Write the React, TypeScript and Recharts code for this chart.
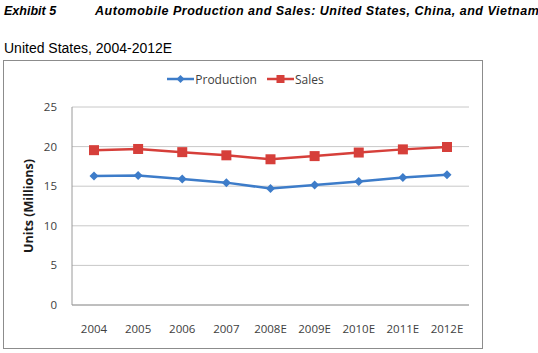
import React from 'react';
import { LineChart, Line, XAxis, YAxis, CartesianGrid, Legend } from 'recharts';

const years = ['2004', '2005', '2006', '2007', '2008E', '2009E', '2010E', '2011E', '2012E'];
const production = [16.3, 16.35, 15.9, 15.45, 14.7, 15.15, 15.6, 16.1, 16.45];
const sales = [19.55, 19.7, 19.3, 18.9, 18.4, 18.8, 19.25, 19.65, 19.95];
const yTicks = [0, 5, 10, 15, 20, 25];

const data = years.map((year, i) => ({ year, production: production[i], sales: sales[i] }));

const BLUE = '#3d7cc9';
const RED = '#d63f3a';
const FONT = '"Open Sans", "Liberation Sans", sans-serif';

const Diamond = (props: any) => {
  const { cx, cy } = props;
  if (cx == null || cy == null) return null;
  const r = 4.5;
  return <path d={`M${cx},${cy - r}L${cx + r},${cy}L${cx},${cy + r}L${cx - r},${cy}Z`} fill={BLUE} />;
};

const Square = (props: any) => {
  const { cx, cy } = props;
  if (cx == null || cy == null) return null;
  return <rect x={cx - 5} y={cy - 5} width={10} height={10} fill={RED} />;
};

const LegendContent = () => (
  <div
    style={{
      display: 'flex',
      justifyContent: 'center',
      paddingLeft: 18,
      fontFamily: FONT,
      fontSize: 12,
      color: '#404040',
      height: 16,
    }}
  >
    <span style={{ display: 'flex', alignItems: 'center', marginRight: 10 }}>
      <svg width={27} height={10}>
        <line x1={0} y1={5} x2={27} y2={5} stroke={BLUE} strokeWidth={2.5} />
        <path d="M13.5,1L17.5,5L13.5,9L9.5,5Z" fill={BLUE} />
      </svg>
      <span style={{ marginLeft: 1 }}>Production</span>
    </span>
    <span style={{ display: 'flex', alignItems: 'center' }}>
      <svg width={27} height={10}>
        <line x1={0} y1={5} x2={27} y2={5} stroke={RED} strokeWidth={2.5} />
        <rect x={9.5} y={1} width={8} height={8} fill={RED} />
      </svg>
      <span style={{ marginLeft: 1 }}>Sales</span>
    </span>
  </div>
);

export default function App() {
  return (
    <div style={{ position: 'absolute', left: 0, top: 0, width: 538, height: 353, background: '#fff' }}>
      <div
        style={{
          position: 'absolute',
          left: 4,
          top: 4,
          fontFamily: '"Liberation Sans", Arial, sans-serif',
          fontSize: 12.5,
          fontWeight: 'bold',
          fontStyle: 'italic',
          whiteSpace: 'nowrap',
        }}
      >
        <span>Exhibit 5</span>
        <span style={{ position: 'absolute', left: 91, letterSpacing: 0.52 }}>
          Automobile Production and Sales: United States, China, and Vietnam
        </span>
      </div>
      <div
        style={{
          position: 'absolute',
          left: 4,
          top: 40,
          fontFamily: '"Liberation Sans", Arial, sans-serif',
          fontSize: 14,
          whiteSpace: 'nowrap',
        }}
      >
        United States, 2004-2012E
      </div>
      <div
        style={{
          position: 'absolute',
          left: 3,
          top: 60,
          width: 478,
          height: 287,
          border: '1px solid #8c8c8c',
        }}
      >
        <LineChart width={478} height={287} data={data} margin={{ top: 30, right: 13, left: 0, bottom: 0 }}>
          <CartesianGrid horizontal vertical={false} stroke="#c8c8c8" strokeWidth={1} />
          <XAxis
            dataKey="year"
            height={43}
            axisLine={{ stroke: '#9a9a9a' }}
            tickLine={false}
            tick={{ fill: '#404040', fontSize: 11.5, fontFamily: FONT }}
            tickMargin={14}
            interval={0}
            padding={{ left: 22, right: 22 }}
          />
          <YAxis
            width={68}
            domain={[0, 25]}
            ticks={yTicks}
            axisLine={{ stroke: '#9a9a9a' }}
            tickLine={false}
            tick={{ fill: '#404040', fontSize: 11.5, fontFamily: FONT }}
            tickMargin={9}
            label={{
              value: 'Units (Millions)',
              angle: -90,
              position: 'insideLeft',
              dx: 20,
              style: { textAnchor: 'middle', fontWeight: 'bold', fontSize: 12.5, fontFamily: FONT, fill: '#1a1a1a' },
            }}
          />
          <Legend verticalAlign="top" align="center" wrapperStyle={{ top: 10 }} content={<LegendContent />} />
          <Line
            dataKey="production"
            name="Production"
            stroke={BLUE}
            strokeWidth={2.5}
            dot={<Diamond />}
            activeDot={false}
            isAnimationActive={false}
          />
          <Line
            dataKey="sales"
            name="Sales"
            stroke={RED}
            strokeWidth={2.5}
            dot={<Square />}
            activeDot={false}
            isAnimationActive={false}
          />
        </LineChart>
      </div>
    </div>
  );
}
